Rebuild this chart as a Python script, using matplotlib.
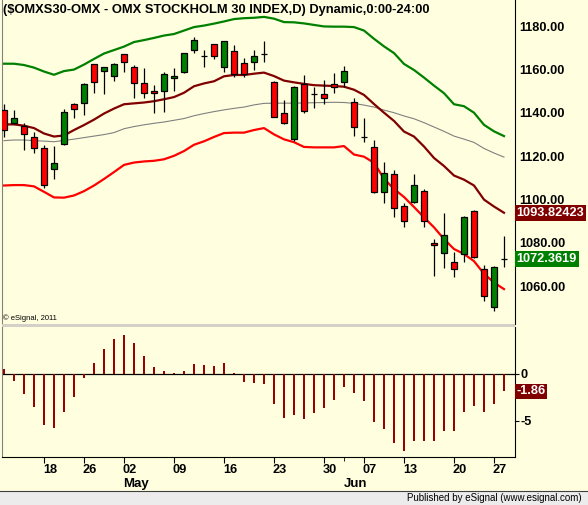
import matplotlib
matplotlib.use('Agg')
import matplotlib.pyplot as plt
import matplotlib.transforms as mtransforms
from matplotlib.patches import Rectangle
from matplotlib.lines import Line2D
import pandas as pd

plt.rcParams['font.family'] = ['Liberation Sans', 'DejaVu Sans']

# trading days shown on the chart
dates = ['2011-04-12', '2011-04-13', '2011-04-14', '2011-04-15', '2011-04-18', '2011-04-19',
         '2011-04-20', '2011-04-21', '2011-04-26', '2011-04-27', '2011-04-28', '2011-04-29',
         '2011-05-02', '2011-05-03', '2011-05-04', '2011-05-05', '2011-05-06', '2011-05-09',
         '2011-05-10', '2011-05-11', '2011-05-12', '2011-05-13', '2011-05-16', '2011-05-17',
         '2011-05-18', '2011-05-19', '2011-05-20', '2011-05-23', '2011-05-24', '2011-05-25',
         '2011-05-26', '2011-05-27', '2011-05-30', '2011-05-31', '2011-06-01', '2011-06-03',
         '2011-06-07', '2011-06-08', '2011-06-09', '2011-06-10', '2011-06-13', '2011-06-14',
         '2011-06-15', '2011-06-16', '2011-06-17', '2011-06-20', '2011-06-21', '2011-06-22',
         '2011-06-23', '2011-06-27', '2011-06-28']

opens = [1141.2, 1135.1, 1133.8, 1128.9, 1123.7, 1114.1, 1125.4, 1143.9, 1144.3, 1162.3,
         1159.4, 1156.8, 1166.9, 1160.9, 1153.6, 1150.1, 1150.1, 1155.9, 1158.9, 1168.9,
         1166.3, 1171.6, 1161.2, 1168.5, 1162.8, 1163.2, 1167.1, 1154.0, 1139.7, 1127.7,
         1153.1, 1148.6, 1148.5, 1153.1, 1154.3, 1144.8, 1128.9, 1124.0, 1103.5, 1111.6,
         1096.9, 1098.9, 1103.8, 1080.0, 1075.1, 1070.9, 1074.6, 1094.6, 1067.7, 1050.2,
         1072.3]
highs = [1144.0, 1141.2, 1135.1, 1131.1, 1124.9, 1124.6, 1141.6, 1144.6, 1153.8, 1162.5,
         1161.0, 1163.1, 1167.0, 1162.0, 1160.5, 1152.8, 1158.9, 1160.5, 1167.5, 1174.8,
         1168.9, 1171.8, 1173.3, 1171.2, 1165.4, 1168.9, 1173.1, 1154.6, 1145.8, 1152.3,
         1157.4, 1152.0, 1155.1, 1158.2, 1161.5, 1146.6, 1137.7, 1127.4, 1117.4, 1113.5,
         1098.2, 1111.7, 1104.8, 1081.7, 1093.6, 1075.8, 1092.3, 1095.1, 1069.7, 1069.2,
         1083.1]
lows = [1128.9, 1134.8, 1122.8, 1121.5, 1105.1, 1109.5, 1125.0, 1137.7, 1138.9, 1149.2,
        1148.5, 1154.6, 1158.9, 1146.9, 1146.6, 1140.0, 1140.4, 1150.0, 1158.5, 1167.4,
        1161.2, 1164.6, 1158.9, 1156.6, 1156.6, 1159.7, 1163.5, 1137.8, 1135.0, 1127.1,
        1140.0, 1142.0, 1144.0, 1148.9, 1152.0, 1129.4, 1126.6, 1103.0, 1098.4, 1091.7,
        1087.1, 1098.2, 1087.4, 1064.6, 1068.2, 1064.3, 1071.2, 1073.0, 1053.2, 1048.6,
        1068.6]
closes = [1132.0, 1137.4, 1130.0, 1123.8, 1106.8, 1116.6, 1140.2, 1141.6, 1153.1, 1154.3,
          1160.9, 1162.3, 1163.5, 1153.8, 1148.9, 1148.9, 1157.7, 1156.9, 1167.4, 1173.5,
          1166.3, 1166.3, 1173.1, 1157.7, 1157.8, 1166.2, 1167.1, 1137.9, 1135.1, 1151.7,
          1140.8, 1148.6, 1146.6, 1151.7, 1159.2, 1133.5, 1128.9, 1103.2, 1112.0, 1095.9,
          1090.1, 1106.6, 1090.0, 1078.8, 1083.5, 1067.7, 1091.7, 1073.5, 1055.5, 1068.6,
          1072.3619]

upper_band = [1162.6, 1162.6, 1162.0, 1160.8, 1159.0, 1157.5, 1159.2, 1159.9, 1162.2, 1164.8,
              1167.3, 1168.9, 1170.5, 1172.6, 1173.5, 1174.5, 1175.6, 1176.3, 1177.9, 1179.5,
              1180.2, 1181.1, 1182.1, 1183.2, 1183.6, 1183.8, 1184.2, 1183.4, 1181.8, 1181.7,
              1181.2, 1180.5, 1179.8, 1179.7, 1179.7, 1179.5, 1177.9, 1174.1, 1170.6, 1167.5,
              1162.5, 1159.7, 1156.2, 1152.5, 1149.0, 1143.9, 1143.0, 1140.0, 1134.4, 1131.4,
              1129.2]
mid_line = [1134.6, 1134.6, 1134.0, 1132.9, 1130.4, 1129.0, 1129.5, 1132.0, 1134.3, 1136.8,
            1139.6, 1141.9, 1143.9, 1144.3, 1144.7, 1145.3, 1146.2, 1147.2, 1149.2, 1152.2,
            1153.5, 1154.5, 1156.8, 1157.4, 1157.4, 1158.0, 1158.5, 1156.9, 1154.8, 1154.0,
            1153.3, 1152.7, 1152.5, 1152.3, 1152.0, 1150.6, 1148.2, 1144.0, 1140.0, 1136.2,
            1131.3, 1129.0, 1124.4, 1119.1, 1115.4, 1111.0, 1109.1, 1106.4, 1099.9, 1096.7,
            1093.82423]
slow_ma = [1127.1, 1127.4, 1127.4, 1127.1, 1126.9, 1126.6, 1127.2, 1127.8, 1128.5, 1129.2,
           1129.9, 1130.8, 1132.6, 1133.6, 1134.4, 1135.1, 1135.7, 1136.5, 1137.3, 1138.6,
           1139.6, 1140.5, 1141.3, 1142.0, 1142.6, 1143.6, 1144.3, 1144.4, 1144.4, 1144.4,
           1144.5, 1144.6, 1144.7, 1144.8, 1144.7, 1144.3, 1143.5, 1142.6, 1141.2, 1140.0,
           1138.5, 1137.2, 1135.4, 1133.4, 1131.4, 1129.2, 1127.8, 1126.3, 1123.5, 1121.4,
           1119.5]
lower_band = [1106.4, 1106.6, 1106.6, 1106.0, 1103.5, 1100.9, 1100.8, 1101.8, 1103.8, 1106.4,
              1109.4, 1112.6, 1115.9, 1117.0, 1117.5, 1117.8, 1118.5, 1120.1, 1122.3, 1125.2,
              1126.8, 1128.8, 1130.6, 1130.8, 1130.8, 1132.0, 1132.9, 1130.0, 1127.7, 1126.4,
              1124.2, 1124.0, 1124.0, 1124.0, 1124.6, 1120.7, 1119.7, 1116.9, 1109.5, 1104.8,
              1101.1, 1096.5, 1091.7, 1087.1, 1081.7, 1077.1, 1074.8, 1071.5, 1065.7, 1061.6,
              1058.6]
osc = [0.5, -0.74, -2.1, -3.5, -5.4, -5.7, -4.0, -2.5, -0.4, 1.2,
       2.66, 3.7, 4.15, 3.3, 1.9, 0.74, 0.32, 0.07, 0.32, 1.1,
       0.96, 0.85, 1.17, 0.14, -0.85, -0.96, -1.06, -3.2, -4.7, -4.36,
       -4.8, -4.1, -3.6, -2.77, -1.35, -1.99, -2.84, -5.07, -5.85, -7.3,
       -8.2, -7.1, -7.1, -7.1, -6.1, -6.1, -4.0, -3.4, -4.0, -3.2,
       -1.86]

price_ticks = [1060, 1080, 1100, 1120, 1140, 1160, 1180]
osc_ticks = [0, -5]
title = '($OMXS30-OMX - OMX STOCKHOLM 30 INDEX,D) Dynamic,0:00-24:00'

W, H = 588, 505
bg = '#FFFFE0'

d = pd.to_datetime(pd.Series(dates))
x = list(range(len(dates)))

# first trading day of each week (after the first) and of each month
week = d.dt.isocalendar().week
tick_idx = [i for i in x[1:] if week[i] != week[i - 1]]
month_idx = [i for i in x[1:] if d[i].month != d[i - 1].month]

fig = plt.figure(figsize=(W / 100, H / 100), dpi=100)
fig.patch.set_facecolor(bg)

ax = fig.add_axes([2 / W, 1 - 324 / H, 513 / W, 324 / H])
ax2 = fig.add_axes([2 / W, 1 - 457 / H, 513 / W, 130 / H], sharex=ax)

for a in (ax, ax2):
    a.set_facecolor(bg)
    a.spines['top'].set_visible(False)
    a.spines['left'].set_color('#808080')
    a.spines['right'].set_color('black')
    a.yaxis.tick_right()
ax.spines['bottom'].set_visible(False)

# bands / averages
ax.plot(x, upper_band, color='#008000', lw=1.6, zorder=2)
ax.plot(x, slow_ma, color='#808080', lw=0.8, zorder=2)
ax.plot(x, mid_line, color='#800000', lw=1.6, zorder=2)
ax.plot(x, lower_band, color='#FF0000', lw=1.6, zorder=2)

# candles
ax.vlines(x, lows, highs, color='black', lw=0.9, zorder=3)
body_col = ['#008000' if c > o + 0.2 else ('#FF0000' if c < o - 0.2 else 'black')
            for o, c in zip(opens, closes)]
bottoms = [min(o, c) for o, c in zip(opens, closes)]
heights = [abs(c - o) for o, c in zip(opens, closes)]
ax.bar(x, heights, bottom=bottoms, width=0.62, color=body_col,
       edgecolor='black', linewidth=0.9, zorder=4)

ax.set_xlim(-0.2, 51.1)
ax.set_ylim(1042.5, 1192)
ax.set_yticks(price_ticks)
ax.set_yticklabels(['%.2f' % v for v in price_ticks])
ax.tick_params(axis='y', length=0, pad=3, labelsize=9.2)
ax.tick_params(axis='x', bottom=False, labelbottom=False)
for lab in ax.get_yticklabels():
    lab.set_fontweight('bold')

ax.text(1.003, mid_line[-1], '%.5f' % mid_line[-1], transform=ax.get_yaxis_transform(),
        color='white', fontsize=9.2, fontweight='bold', va='center', ha='left',
        bbox=dict(facecolor='#800000', edgecolor='none', pad=1.3), zorder=6, clip_on=False)
ax.text(1.003, closes[-1], '%.4f' % closes[-1], transform=ax.get_yaxis_transform(),
        color='white', fontsize=9.2, fontweight='bold', va='center', ha='left',
        bbox=dict(facecolor='#008000', edgecolor='none', pad=1.3), zorder=6, clip_on=False)

# oscillator panel
ax2.bar(x, osc, width=0.22, color='#990000', zorder=3)
ax2.axhline(0, color='black', lw=0.9, zorder=2)
ax2.set_ylim(-8.83, 5.0)
ax2.set_yticks(osc_ticks)
ax2.set_yticklabels([str(v) for v in osc_ticks])
ax2.tick_params(axis='y', length=3, pad=1, labelsize=9.2)
for lab in ax2.get_yticklabels():
    lab.set_fontweight('bold')
ax2.text(1.003, osc[-1], '%.2f' % osc[-1], transform=ax2.get_yaxis_transform(),
         color='white', fontsize=9.2, fontweight='bold', va='center', ha='left',
         bbox=dict(facecolor='#800000', edgecolor='none', pad=1.3), zorder=6, clip_on=False)

ax2.set_xticks(tick_idx)
ax2.set_xticklabels([d[i].strftime('%d') for i in tick_idx])
ax2.set_xticks(month_idx, minor=True)
ax2.tick_params(axis='x', which='major', length=4, pad=1, labelsize=9.2)
ax2.tick_params(axis='x', which='minor', length=3)
shift = mtransforms.ScaledTranslation(0.06, 0, fig.dpi_scale_trans)
for lab in ax2.get_xticklabels():
    lab.set_fontweight('bold')
    lab.set_transform(lab.get_transform() + shift)

for i in month_idx:
    ax2.text(i + 1.2, -0.21, d[i].strftime('%b'), transform=ax2.get_xaxis_transform(),
             ha='center', va='center', fontsize=9.5, fontweight='bold')

# title and small texts
fig.text(3 / W, 1 - 10 / H, title, fontsize=9.3, fontweight='bold', va='center', ha='left')
fig.text(3 / W, 1 - 318 / H, '\u00a9 eSignal, 2011', fontsize=5.5, va='center', ha='left')

# separator between panels
fig.add_artist(Rectangle((2 / W, 1 - 327 / H), 513 / W, 3 / H, transform=fig.transFigure,
                         facecolor='#D4D0C8', edgecolor='none'))

# status bar
fig.add_artist(Rectangle((0, 0), 1, 14 / H, transform=fig.transFigure,
                         facecolor='#ECECEC', edgecolor='none'))
fig.add_artist(Line2D([0, 1], [14 / H, 14 / H], transform=fig.transFigure,
                      color='#404040', lw=0.8))
fig.text(582 / W, 7 / H, 'Published by eSignal (www.esignal.com)', fontsize=7,
         va='center', ha='right')

fig.savefig('out.png', dpi=100, facecolor=bg)
